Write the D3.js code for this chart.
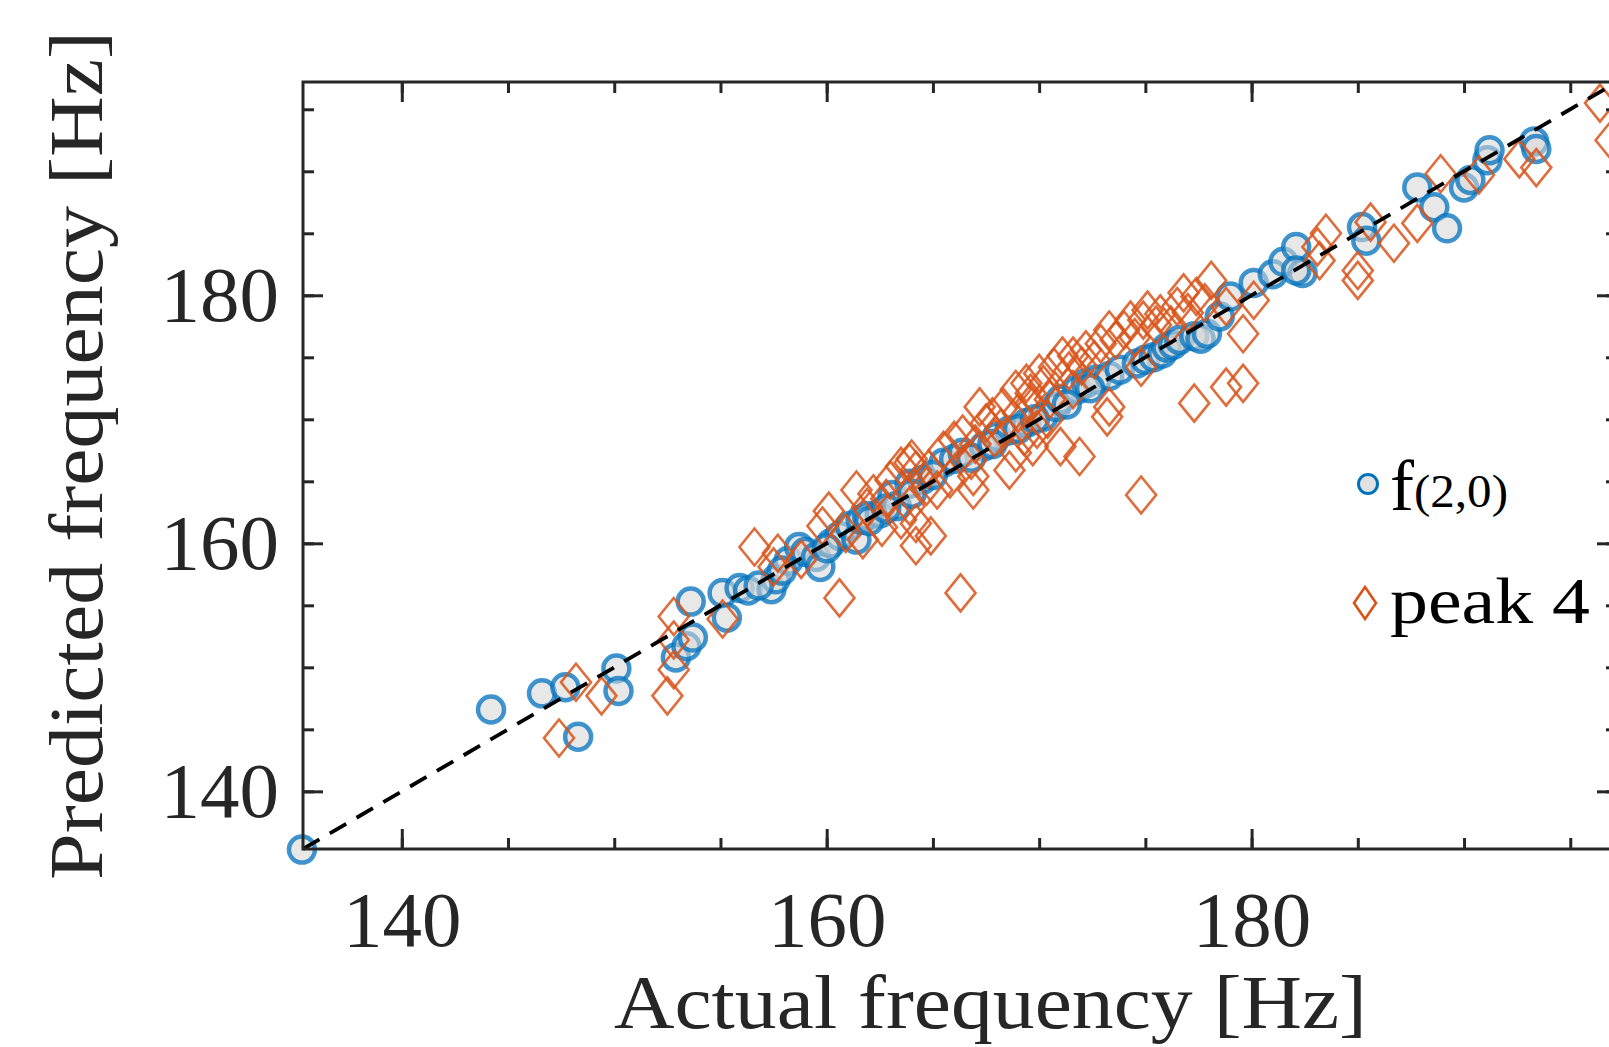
<!DOCTYPE html>
<html>
<head>
<meta charset="utf-8">
<script src="https://cdn.jsdelivr.net/npm/d3@7"></script>
<style>
  body { margin: 0; background: #fff; }
  svg { display: block; }
</style>
</head>
<body>
<svg width="1609" height="1047"></svg>
<script>
// f(2,0) : actual vs predicted
var circActual = [135.3, 144.2, 146.6, 147.7, 148.3, 150.1, 150.2, 152.9, 153.4, 153.7,
	153.6, 155.1, 155.3, 155.9, 156.3, 157.4, 157.6, 158.2, 158.7, 159.0,
	159.5, 159.7, 160.2, 160.6, 161.1, 161.4, 161.6, 161.9, 162.5, 163.1,
	163.3, 163.9, 164.5, 165.5, 166.0, 166.4, 167.4, 168.0, 168.6, 169.4,
	170.2, 170.8, 171.0, 171.8, 172.2, 172.7, 173.3, 173.8, 174.6, 175.0,
	175.4, 175.8, 176.0, 176.3, 176.6, 177.3, 177.6, 177.9, 178.5, 179.0,
	180.1, 181.0, 181.5, 182.1, 182.4, 182.1, 185.2, 185.4, 187.8, 188.6,
	189.2, 190.0, 190.3, 191.1, 191.2, 193.3, 193.4,
	156.8, 157.9, 160.0, 162.0, 162.8, 164.0, 165.0, 166.8, 167.8, 169.0,
	169.8, 171.3, 172.4];
var circPredicted = [135.3, 146.6, 147.9, 148.4, 144.4, 149.9, 148.1, 150.8, 151.7, 152.4,
	155.3, 156.0, 154.0, 156.4, 156.2, 156.3, 157.1, 158.6, 159.7, 159.3,
	158.9, 158.1, 160.0, 160.6, 161.4, 160.3, 161.9, 162.2, 162.4, 163.9,
	163.0, 164.8, 165.1, 166.5, 166.8, 167.3, 167.8, 168.6, 169.1, 169.7,
	170.2, 171.0, 171.6, 172.4, 172.9, 173.2, 173.5, 174.0, 174.5, 174.8,
	175.0, 175.3, 175.8, 176.0, 176.4, 176.7, 176.5, 176.9, 178.3, 179.9,
	181.0, 181.7, 182.7, 183.9, 181.8, 182.0, 185.5, 184.4, 188.7, 187.1,
	185.4, 188.7, 189.3, 190.9, 191.7, 192.4, 191.8,
	156.6, 157.8, 159.6, 161.8, 162.8, 164.0, 165.5, 166.9, 168.0, 169.2,
	170.0, 171.2, 172.5];

// peak 4 : actual vs predicted
var diaActual = [147.4, 148.2, 149.4, 152.5, 152.8, 152.8, 152.8, 155.1, 156.6, 157.5,
	157.7, 158.8, 159.8, 160.1, 160.6, 160.9, 161.4, 161.7, 163.0, 163.5,
	163.9, 164.2, 163.5, 163.9, 164.2, 164.2, 164.9, 164.7, 165.2, 166.3,
	166.0, 166.8, 166.9, 166.9, 167.2, 167.5, 168.3, 168.6, 168.9, 169.3,
	169.7, 168.9, 169.6, 169.9, 171.0, 170.5, 169.4, 169.6, 170.0, 170.7,
	171.1, 171.6, 172.2, 172.9, 173.3, 174.0, 174.3, 174.9, 175.1, 175.7,
	176.5, 176.8, 177.4, 178.1, 171.9, 173.2, 173.3, 174.8, 174.8, 177.3,
	178.8, 179.6, 179.6, 178.8, 180.1, 183.5, 183.1, 183.2, 185.0, 185.0,
	185.6, 186.7, 187.8, 188.9, 190.7, 192.6, 193.4, 196.4, 196.9,
	162.2, 162.8, 164.0, 164.8, 165.5, 166.4, 167.0, 167.8, 168.2, 169.0,
	170.2, 171.4, 172.0, 172.6, 173.6, 174.5, 175.5, 176.2, 177.0, 177.8,
	161.9, 162.6, 165.8, 167.9, 170.4, 171.6];
var diaPredicted = [144.3, 148.8, 147.7, 147.7, 149.8, 152.2, 154.1, 153.9, 159.7, 158.1,
	159.2, 158.7, 161.4, 162.6, 155.6, 160.8, 164.3, 160.3, 165.1, 166.2,
	166.5, 165.9, 161.9, 163.0, 161.6, 159.8, 160.6, 164.6, 164.3, 156.0,
	168.3, 166.7, 164.3, 165.4, 171.0, 169.7, 171.0, 165.9, 167.3, 168.6,
	167.8, 172.4, 172.1, 169.2, 167.8, 171.6, 172.9, 171.3, 173.7, 174.2,
	175.1, 175.1, 175.6, 176.1, 177.2, 177.2, 178.0, 178.0, 178.8, 178.5,
	179.1, 180.2, 179.9, 181.2, 167.0, 170.2, 171.0, 174.2, 163.9, 171.3,
	172.6, 172.9, 176.9, 179.1, 179.6, 185.0, 183.9, 182.8, 182.0, 181.2,
	185.9, 184.2, 185.8, 189.8, 189.7, 191.0, 190.3, 195.5, 192.5,
	164.0, 163.6, 166.8, 166.0, 167.5, 168.8, 168.0, 170.2, 169.3, 170.5,
	172.8, 173.9, 174.3, 174.8, 176.4, 176.6, 177.6, 177.6, 178.6, 179.4,
	162.9, 161.3, 165.2, 168.5, 170.0, 172.4];

var axisLimits = [135.35, 197.2];
var majorTicks = [140, 160, 180];
var minorTicks = [140, 145, 150, 155, 160, 165, 170, 175, 180, 185, 190, 195];
var xTitle = "Actual frequency [Hz]";
var yTitle = "Predicted frequency [Hz]";

var svg = d3.select("svg");
var axisColor = "#262626";
var blue = "#0072BD", orange = "#D95319";

var x = d3.scaleLinear().domain(axisLimits).range([303, 1617]);
var y = d3.scaleLinear().domain(axisLimits).range([849, 82]);

function diamond(cx, cy, w, h) {
	var p = d3.path();
	p.moveTo(cx, cy - h);
	p.lineTo(cx + w, cy);
	p.lineTo(cx, cy + h);
	p.lineTo(cx - w, cy);
	p.closePath();
	return p.toString();
}

var circData = circActual.map(function(d, i) { return [d, circPredicted[i]]; });
var diaData = diaActual.map(function(d, i) { return [d, diaPredicted[i]]; });

// circles
svg.append("g").selectAll("circle")
	.data(circData)
	.enter()
	.append("circle")
		.attr("cx", function(d) { return x(d[0]); })
		.attr("cy", function(d) { return y(d[1]); })
		.attr("r", 13)
		.attr("fill", "#d6d6d6")
		.attr("fill-opacity", 0.55)
		.attr("stroke", blue)
		.attr("stroke-opacity", 0.75)
		.attr("stroke-width", 4.5);

// diamonds
svg.append("g").selectAll("path")
	.data(diaData)
	.enter()
	.append("path")
		.attr("d", function(d) { return diamond(x(d[0]), y(d[1]), 15, 18.5); })
		.attr("fill", "none")
		.attr("stroke", orange)
		.attr("stroke-opacity", 0.85)
		.attr("stroke-width", 2.6);

// y = x reference line
svg.append("path")
	.datum(axisLimits)
	.attr("fill", "none")
	.attr("stroke", "#000")
	.attr("stroke-width", 3.8)
	.attr("stroke-dasharray", "19 12")
	.attr("d", d3.line()
		.x(function(d) { return x(d); })
		.y(function(d) { return y(d); }));

// axes: ticks inward on all four sides
function addAxis(gen, tx, ty, vals, size, labels) {
	var g = svg.append("g")
		.attr("transform", "translate(" + tx + "," + ty + ")")
		.call(gen.tickValues(vals).tickSize(-size).tickFormat(labels ? d3.format("d") : function() { return ""; }));
	g.select(".domain").remove();
	g.selectAll(".tick line").attr("stroke", axisColor).attr("stroke-width", 3);
	return g;
}
addAxis(d3.axisBottom(x), 0, 849, minorTicks, 11, false);
addAxis(d3.axisTop(x), 0, 82, minorTicks, 11, false);
addAxis(d3.axisLeft(y), 303, 0, minorTicks, 11, false);
addAxis(d3.axisRight(y), 1617, 0, minorTicks, 11, false);
addAxis(d3.axisTop(x), 0, 82, majorTicks, 20, false);
addAxis(d3.axisRight(y), 1617, 0, majorTicks, 20, false);

var gx = addAxis(d3.axisBottom(x), 0, 849, majorTicks, 20, true);
gx.selectAll(".tick text")
	.attr("y", 97).attr("dy", 0)
	.attr("fill", axisColor)
	.style("font-family", "'Liberation Serif', serif")
	.style("font-size", "79px");

var gy = addAxis(d3.axisLeft(y), 303, 0, majorTicks, 20, true);
gy.selectAll(".tick text")
	.attr("x", -24).attr("y", 25).attr("dy", 0)
	.attr("fill", axisColor)
	.style("font-family", "'Liberation Serif', serif")
	.style("font-size", "79px");

// box
svg.append("rect")
	.attr("x", x.range()[0]).attr("y", y.range()[1])
	.attr("width", x.range()[1] - x.range()[0])
	.attr("height", y.range()[0] - y.range()[1])
	.attr("fill", "none")
	.attr("stroke", axisColor)
	.attr("stroke-width", 3);

// axis titles
svg.append("text")
	.attr("x", 614).attr("y", 1028)
	.attr("textLength", 753).attr("lengthAdjust", "spacingAndGlyphs")
	.attr("fill", axisColor)
	.style("font-family", "'Liberation Serif', serif")
	.style("font-size", "77px")
	.text(xTitle);

svg.append("text")
	.attr("transform", "translate(102,880) rotate(-90)")
	.attr("textLength", 849).attr("lengthAdjust", "spacingAndGlyphs")
	.attr("fill", axisColor)
	.style("font-family", "'Liberation Serif', serif")
	.style("font-size", "77px")
	.text(yTitle);

// legend
var leg = svg.append("g");
leg.append("circle")
	.attr("cx", 1368).attr("cy", 484).attr("r", 9.5)
	.attr("fill", "#d6d6d6").attr("fill-opacity", 0.7)
	.attr("stroke", blue).attr("stroke-width", 3);
leg.append("path")
	.attr("d", diamond(1365, 603, 11, 16))
	.attr("fill", "none")
	.attr("stroke", orange).attr("stroke-width", 2.6);

var t1 = leg.append("text")
	.attr("x", 1390).attr("y", 510)
	.attr("fill", "#000")
	.style("font-family", "'Liberation Serif', serif");
t1.append("tspan").style("font-size", "72px").text("f");
t1.append("tspan").attr("dy", -3).style("font-size", "46px")
	.attr("textLength", 94).attr("lengthAdjust", "spacingAndGlyphs")
	.text("(2,0)");

leg.append("text")
	.attr("x", 1390).attr("y", 623)
	.attr("textLength", 200).attr("lengthAdjust", "spacingAndGlyphs")
	.attr("fill", "#000")
	.style("font-family", "'Liberation Serif', serif")
	.style("font-size", "65px")
	.text("peak 4");
</script>
</body>
</html>
